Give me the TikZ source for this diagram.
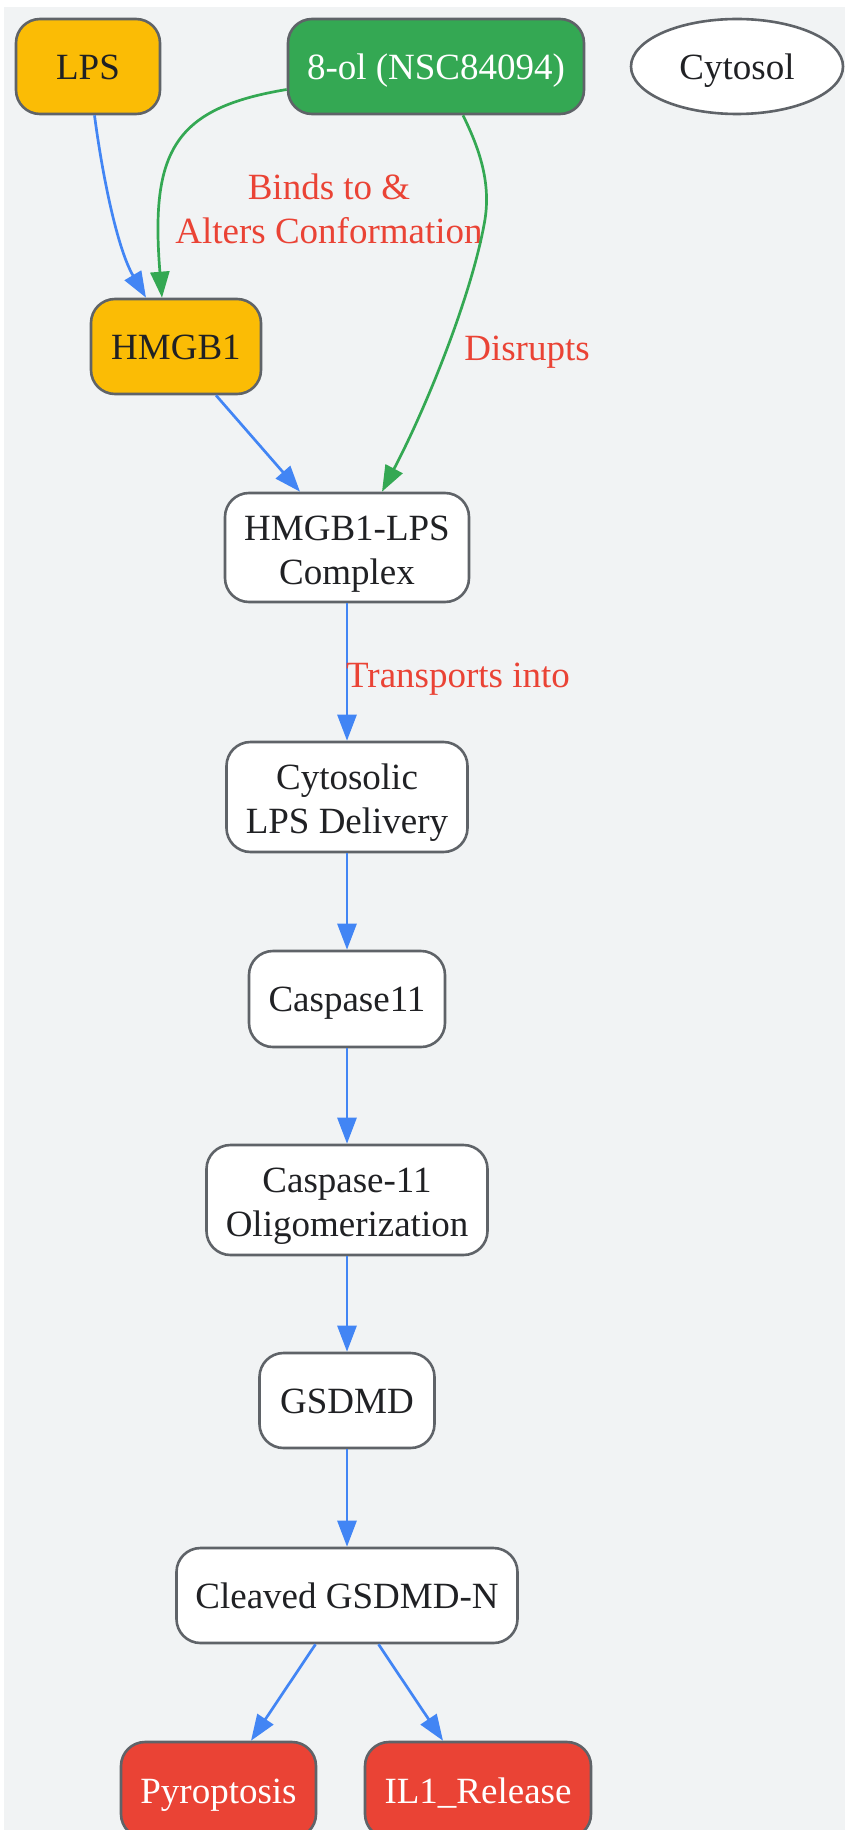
\documentclass[tikz,border=0pt]{standalone}
\usepackage{fontspec}
\setmainfont{Liberation Serif}
\usetikzlibrary{arrows.meta,calc,shapes.geometric}
\definecolor{bgc}{HTML}{F1F3F4}
\definecolor{bordc}{HTML}{5F6368}
\definecolor{txtc}{HTML}{202124}
\definecolor{ylw}{HTML}{FBBC05}
\definecolor{grn}{HTML}{34A853}
\definecolor{rd}{HTML}{EA4335}
\definecolor{blu}{HTML}{4285F4}
\newcommand\lowr[2][2pt]{\raisebox{-#1}[\height][\depth]{\begin{tabular}{@{}c@{}}#2\end{tabular}}}
\begin{document}
\begin{tikzpicture}[x=0.5pt,y=-0.5pt,
  box/.style={draw=bordc,line width=1.3pt,rounded corners=12pt,fill=white,text=txtc,
    inner sep=0pt,align=center,font=\fontsize{18.5}{22}\selectfont},
  yel/.style={box,fill=ylw},
  gre/.style={box,fill=grn,text=white},
  red/.style={box,fill=rd,text=white},
  ar/.style={line width=1.35pt,-{Triangle[length=13pt,width=9.5pt]}},
  bl/.style={ar,draw=blu},
  gr/.style={ar,draw=grn},
  lbl/.style={text=rd,align=center,font=\fontsize{18.5}{22}\selectfont,inner sep=0pt}]
\useasboundingbox (0,0) rectangle (845,1830);
\clip (0,0) rectangle (845,1830);
\fill[bgc] (4,7) rectangle (845,1830);
% nodes
\node[yel,minimum width=72pt,minimum height=47.5pt] (lps) at (88,66.5) {\lowr{LPS}};
\node[gre,minimum width=148pt,minimum height=47.5pt] (ol) at (436,66.5) {\lowr{8-ol (NSC84094)}};
\node[draw=bordc,line width=1.3pt,fill=white,text=txtc,ellipse,inner sep=0pt,
  minimum width=106pt,minimum height=47.5pt,font=\fontsize{18.5}{22}\selectfont] (cyt) at (737,66.5) {\lowr{Cytosol}};
\node[yel,minimum width=85pt,minimum height=47.5pt] (hmgb) at (176,346.5) {\lowr{HMGB1}};
\node[box,minimum width=122pt,minimum height=54.5pt] (cplx) at (347,547.5) {\lowr[3pt]{HMGB1-LPS\\Complex}};
\node[box,minimum width=120.5pt,minimum height=55pt] (deliv) at (347,797) {\lowr[3pt]{Cytosolic\\LPS Delivery}};
\node[box,minimum width=98pt,minimum height=48pt] (casp) at (347,999) {\lowr{Caspase11}};
\node[box,minimum width=140.5pt,minimum height=55pt] (olig) at (347,1200) {\lowr[3pt]{Caspase-11\\Oligomerization}};
\node[box,minimum width=87.5pt,minimum height=47.5pt] (gsdmd) at (347,1400.5) {\lowr{GSDMD}};
\node[box,minimum width=170.5pt,minimum height=47.5pt] (clv) at (347,1595.5) {\lowr{Cleaved GSDMD-N}};
\node[red,minimum width=97.5pt,minimum height=48pt] (pyro) at (218.5,1790) {\lowr[2.5pt]{Pyroptosis}};
\node[red,minimum width=113pt,minimum height=48pt] (il) at (478,1790) {\lowr[2.5pt]{IL1\_Release}};
% edges
\draw[bl] ($(lps.south)+(6.5,0)$) .. controls (103,180) and (118,250) .. ($(hmgb.north)+(-30,0)$);
\draw[gr] ($(ol.west)+(0,23)$) .. controls (175,108) and (150,150) .. ($(hmgb.north)+(-14,0)$);
\node[lbl] (lb1) at (329,209) {Binds to \&\\Alters Conformation};
\draw[gr] ($(ol.south)+(27,0)$) .. controls (480,150) and (492,185) .. (484,225)
  .. controls (470,300) and (425,410) .. ($(cplx.north)+(35,0)$);
\node[lbl] (lb2) at (527,352) {Disrupts};
\draw[bl] ($(hmgb.south)+(40,0)$) -- ($(cplx.north)+(-47,0)$);
\draw[bl] (cplx) -- (deliv);
\node[lbl] (lb3) at (458,679) {Transports into};
\draw[bl] (deliv) -- (casp);
\draw[bl] (casp) -- (olig);
\draw[bl] (olig) -- (gsdmd);
\draw[bl] (gsdmd) -- (clv);
\draw[bl] ($(clv.south)+(-31.5,0)$) -- ($(pyro.north)+(32.5,0)$);
\draw[bl] ($(clv.south)+(31.5,0)$) -- ($(il.north)+(-35,0)$);
\end{tikzpicture}
\end{document}
